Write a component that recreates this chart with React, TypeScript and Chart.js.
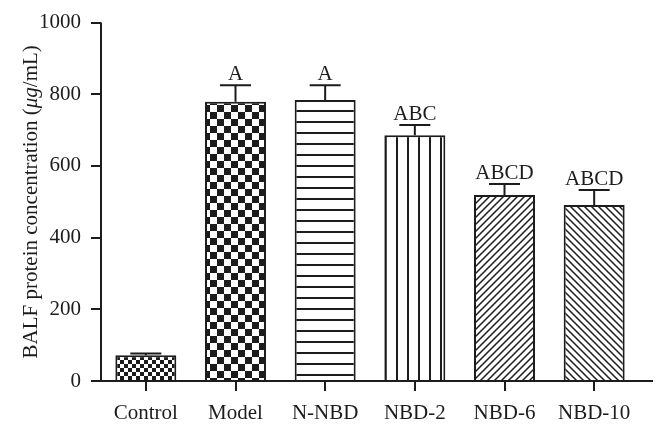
import React, { useEffect, useRef } from 'react';
import { Chart, registerables } from 'chart.js';
Chart.register(...registerables);

const categories = ['Control', 'Model', 'N-NBD', 'NBD-2', 'NBD-6', 'NBD-10'];
const means = [72, 779, 784, 686, 519, 491];
const errors = [5, 46, 41, 28, 31, 42];
const letters = ['', 'A', 'A', 'ABC', 'ABCD', 'ABCD'];
const patternKinds = ['checkSmall', 'checkLarge', 'hlines', 'vlines', 'diagR', 'diagL'];
const yMin = 0;
const yMax = 1000;
const yStep = 200;

const FONT = '"Liberation Serif", "Times New Roman", serif';
const INK = '#1c1c1c';

function makePattern(kind: string): CanvasPattern | string {
  const c = document.createElement('canvas');
  const g = c.getContext('2d');
  if (!g) return '#fff';
  const fillBg = (w: number, h: number) => {
    c.width = w;
    c.height = h;
    g.fillStyle = '#fff';
    g.fillRect(0, 0, w, h);
    g.fillStyle = INK;
    g.strokeStyle = INK;
  };
  if (kind === 'checkSmall' || kind === 'checkLarge') {
    const s = kind === 'checkSmall' ? 4 : 7;
    fillBg(2 * s, 2 * s);
    g.fillRect(0, 0, s, s);
    g.fillRect(s, s, s, s);
  } else if (kind === 'hlines') {
    fillBg(4, 11);
    g.fillRect(0, 0, 4, 2);
  } else if (kind === 'vlines') {
    fillBg(11, 4);
    g.fillRect(0, 0, 2, 4);
  } else {
    const s = 7;
    fillBg(s, s);
    g.lineWidth = 1.5;
    g.beginPath();
    if (kind === 'diagR') {
      g.moveTo(-1, s + 1); g.lineTo(s + 1, -1);
      g.moveTo(-1, 1); g.lineTo(1, -1);
      g.moveTo(s - 1, s + 1); g.lineTo(s + 1, s - 1);
    } else {
      g.moveTo(-1, -1); g.lineTo(s + 1, s + 1);
      g.moveTo(s - 1, -1); g.lineTo(s + 1, 1);
      g.moveTo(-1, s - 1); g.lineTo(1, s + 1);
    }
    g.stroke();
  }
  const p = g.createPattern(c, 'repeat');
  return p || '#fff';
}

const overlayPlugin = {
  id: 'overlay',
  afterDatasetsDraw(chart: any) {
    const ctx = chart.ctx as CanvasRenderingContext2D;
    const ys = chart.scales.y;
    const area = chart.chartArea;
    const meta = chart.getDatasetMeta(0);
    ctx.save();
    ctx.strokeStyle = INK;
    ctx.lineWidth = 2;
    meta.data.forEach((bar: any, i: number) => {
      const x = bar.x;
      const yTop = ys.getPixelForValue(means[i]);
      const yErr = ys.getPixelForValue(means[i] + errors[i]);
      ctx.beginPath();
      ctx.moveTo(x, yTop);
      ctx.lineTo(x, yErr);
      ctx.moveTo(x - 15.5, yErr);
      ctx.lineTo(x + 15.5, yErr);
      ctx.stroke();
      if (letters[i]) {
        ctx.fillStyle = INK;
        ctx.font = `21px ${FONT}`;
        ctx.textAlign = 'center';
        ctx.textBaseline = 'alphabetic';
        ctx.fillText(letters[i], x, yErr - 5);
      }
    });
    ctx.beginPath();
    ctx.moveTo(area.left, ys.getPixelForValue(yMax));
    ctx.lineTo(area.left, area.bottom + 1);
    ctx.moveTo(area.left - 10, area.bottom);
    ctx.lineTo(653, area.bottom);
    ctx.stroke();
    const parts = [
      { t: 'BALF protein concentration (', it: false },
      { t: '\u03bcg', it: true },
      { t: '/mL)', it: false },
    ];
    const fontOf = (it: boolean) => `${it ? 'italic ' : ''}21px ${FONT}`;
    let total = 0;
    parts.forEach((p) => { ctx.font = fontOf(p.it); total += ctx.measureText(p.t).width; });
    ctx.translate(31, (area.top + area.bottom) / 2);
    ctx.rotate(-Math.PI / 2);
    ctx.fillStyle = INK;
    ctx.textAlign = 'left';
    ctx.textBaseline = 'middle';
    let cx = -total / 2;
    parts.forEach((p) => {
      ctx.font = fontOf(p.it);
      ctx.fillText(p.t, cx, 0);
      cx += ctx.measureText(p.t).width;
    });
    ctx.restore();
  },
};

export default function App() {
  const ref = useRef<HTMLCanvasElement>(null);
  useEffect(() => {
    document.body.style.margin = '0';
    const canvas = ref.current;
    if (!canvas) return;
    const chart = new Chart(canvas, {
      type: 'bar',
      data: {
        labels: categories,
        datasets: [
          {
            data: means,
            backgroundColor: patternKinds.map(makePattern) as any,
            borderColor: INK,
            borderWidth: 2,
            barPercentage: 0.68,
            categoryPercentage: 1,
          },
        ],
      },
      options: {
        animation: false,
        responsive: false,
        layout: { padding: { top: 21, right: 16, left: 0, bottom: 0 } },
        plugins: { legend: { display: false }, tooltip: { enabled: false } },
        scales: {
          x: {
            offset: true,
            grid: { offset: false, drawOnChartArea: false, drawTicks: true, tickLength: 10, color: INK, lineWidth: 2 },
            border: { display: false },
            ticks: { color: INK, font: { family: FONT, size: 21 }, padding: 10, maxRotation: 0, autoSkip: false },
            afterFit: (s: any) => { s.height = 52; },
          },
          y: {
            min: yMin,
            max: yMax,
            grid: { drawOnChartArea: false, drawTicks: true, tickLength: 10, color: INK, lineWidth: 2 },
            border: { display: false },
            ticks: {
              stepSize: yStep,
              color: INK,
              font: { family: FONT, size: 21 },
              padding: 10,
              callback: (v: any) => String(v),
            },
            afterFit: (s: any) => { s.width = 101; },
          },
        },
      },
      plugins: [overlayPlugin],
    });
    return () => chart.destroy();
  }, []);
  return (
    <div style={{ width: 655, height: 433, background: '#fff' }}>
      <canvas ref={ref} width={655} height={433} />
    </div>
  );
}
